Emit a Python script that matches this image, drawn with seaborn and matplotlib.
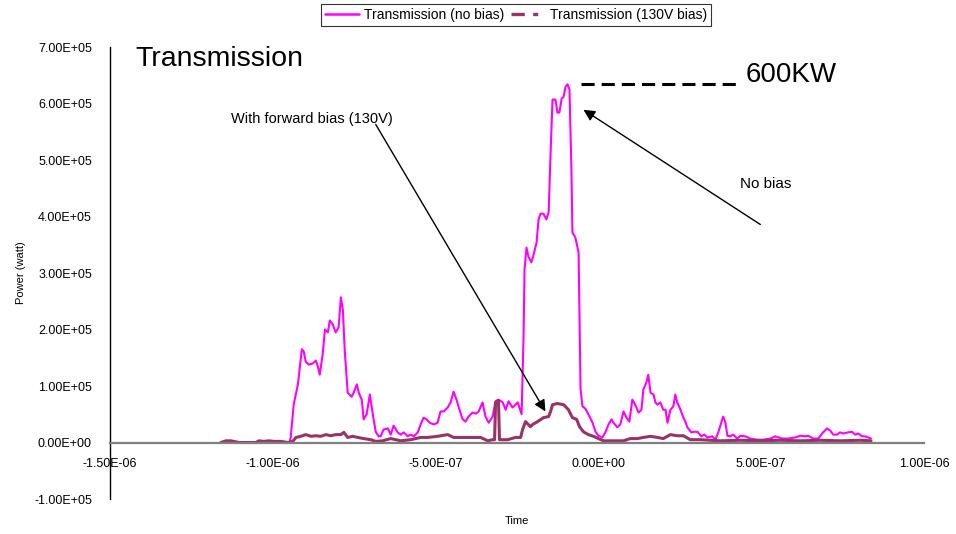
import matplotlib
matplotlib.use("Agg")
import matplotlib.pyplot as plt
from matplotlib.lines import Line2D
from matplotlib.ticker import FuncFormatter
import numpy as np
import pandas as pd
import seaborn as sns

# Transmitted power, time in microseconds, power in kW
time_no_bias_us = [
    -1.153, -1.098, -1.037, -0.975, -0.948, -0.945, -0.936, -0.923, -0.911, -0.905,
    -0.899, -0.890, -0.877, -0.868, -0.862, -0.856, -0.847, -0.840, -0.831, -0.825,
    -0.816, -0.807, -0.798, -0.791, -0.785, -0.779, -0.770, -0.758, -0.752, -0.742,
    -0.736, -0.727, -0.721, -0.712, -0.702, -0.693, -0.684, -0.675, -0.669, -0.660,
    -0.647, -0.638, -0.629, -0.617, -0.607, -0.598, -0.586, -0.577, -0.567, -0.555,
    -0.546, -0.537, -0.528, -0.518, -0.506, -0.494, -0.485, -0.475, -0.463, -0.454,
    -0.445, -0.436, -0.429, -0.417, -0.408, -0.399, -0.387, -0.377, -0.368, -0.356,
    -0.347, -0.337, -0.325, -0.316, -0.307, -0.294, -0.285, -0.276, -0.264, -0.248,
    -0.236, -0.230, -0.227, -0.221, -0.215, -0.206, -0.199, -0.190, -0.184, -0.178,
    -0.169, -0.160, -0.153, -0.147, -0.141, -0.132, -0.126, -0.120, -0.113, -0.107,
    -0.101, -0.095, -0.089, -0.083, -0.080, -0.071, -0.061, -0.055, -0.049, -0.040,
    -0.031, -0.018, -0.009, 0.000, 0.012, 0.021, 0.031, 0.040, 0.046, 0.058,
    0.067, 0.077, 0.086, 0.095, 0.104, 0.113, 0.123, 0.132, 0.138, 0.147,
    0.153, 0.160, 0.169, 0.175, 0.181, 0.190, 0.199, 0.206, 0.212, 0.221,
    0.230, 0.236, 0.242, 0.252, 0.261, 0.267, 0.273, 0.285, 0.294, 0.304,
    0.316, 0.325, 0.334, 0.350, 0.359, 0.368, 0.377, 0.383, 0.390, 0.396,
    0.405, 0.414, 0.426, 0.436, 0.451, 0.466, 0.488, 0.506, 0.528, 0.543,
    0.564, 0.583, 0.604, 0.620, 0.635, 0.644, 0.660, 0.675, 0.690, 0.702,
    0.712, 0.721, 0.733, 0.742, 0.752, 0.767, 0.779, 0.788, 0.798, 0.810,
    0.819, 0.828, 0.837,
]
power_no_bias_kw = [
    0, 0, 0, 0, 1, 10, 67, 103, 165, 161,
    143, 138, 140, 145, 135, 120, 156, 200, 195, 216,
    209, 195, 204, 257, 235, 161, 88, 81, 88, 103,
    88, 76, 41, 50, 85, 50, 19, 11, 11, 23,
    25, 14, 30, 18, 14, 18, 11, 14, 11, 18,
    32, 44, 41, 35, 32, 35, 55, 55, 62, 71,
    90, 76, 62, 41, 37, 46, 53, 51, 55, 71,
    46, 35, 46, 73, 76, 71, 58, 73, 62, 71,
    50, 188, 306, 345, 329, 319, 333, 354, 395, 405,
    405, 395, 407, 513, 607, 607, 584, 584, 609, 612,
    630, 634, 625, 483, 372, 363, 336, 94, 64, 60,
    50, 35, 19, 12, 9, 18, 32, 41, 35, 27,
    32, 55, 44, 37, 76, 67, 53, 58, 94, 106,
    120, 88, 85, 71, 67, 71, 58, 58, 35, 58,
    64, 85, 71, 58, 44, 37, 27, 18, 19, 19,
    11, 14, 9, 11, 5, 18, 35, 46, 35, 12,
    11, 14, 7, 12, 11, 7, 5, 5, 7, 11,
    7, 7, 9, 12, 11, 12, 7, 7, 18, 25,
    21, 14, 14, 18, 16, 18, 19, 14, 16, 11,
    11, 9, 7,
]

time_bias_us = [
    -1.160, -1.144, -1.129, -1.120, -1.104, -1.077, -1.052, -1.043, -1.028, -1.012,
    -0.997, -0.975, -0.954, -0.939, -0.929, -0.914, -0.899, -0.883, -0.868, -0.853,
    -0.837, -0.822, -0.807, -0.791, -0.782, -0.770, -0.755, -0.739, -0.721, -0.699,
    -0.684, -0.663, -0.638, -0.607, -0.577, -0.546, -0.525, -0.494, -0.463, -0.445,
    -0.423, -0.402, -0.383, -0.362, -0.340, -0.325, -0.319, -0.316, -0.307, -0.304,
    -0.279, -0.255, -0.239, -0.233, -0.224, -0.209, -0.202, -0.187, -0.169, -0.153,
    -0.147, -0.141, -0.126, -0.107, -0.092, -0.080, -0.067, -0.058, -0.046, -0.031,
    -0.015, 0.000, 0.015, 0.046, 0.077, 0.098, 0.120, 0.138, 0.160, 0.181,
    0.199, 0.221, 0.242, 0.261, 0.282, 0.313, 0.374, 0.436, 0.497, 0.558,
    0.620, 0.681, 0.742, 0.804, 0.837,
]
power_bias_kw = [
    0, 3, 3, 2, 0, 0, 0, 3, 2, 3,
    2, 2, 0, 2, 9, 11, 14, 11, 12, 11,
    14, 12, 14, 14, 18, 9, 11, 9, 7, 5,
    2, 3, 7, 3, 5, 9, 9, 11, 14, 9,
    9, 9, 9, 9, 3, 5, 5, 71, 74, 5,
    5, 9, 9, 23, 37, 28, 32, 37, 44, 46,
    55, 67, 69, 67, 58, 44, 41, 28, 19, 14,
    11, 7, 3, 3, 3, 7, 7, 9, 11, 9,
    7, 14, 12, 12, 5, 5, 3, 4, 3, 4,
    3, 4, 3, 4, 3,
]

series_labels = ["Transmission (no bias)", "Transmission (130V bias)"]
series_colors = ["#FF00FF", "#993366"]
y_ticks = [-1e5, 0, 1e5, 2e5, 3e5, 4e5, 5e5, 6e5, 7e5]
x_ticks = [-1.5e-6, -1.0e-6, -5e-7, 0.0, 5e-7, 1.0e-6]

df = pd.concat([
    pd.DataFrame({"Time": np.array(time_no_bias_us) * 1e-6,
                  "Power": np.array(power_no_bias_kw) * 1e3,
                  "Series": series_labels[0]}),
    pd.DataFrame({"Time": np.array(time_bias_us) * 1e-6,
                  "Power": np.array(power_bias_kw) * 1e3,
                  "Series": series_labels[1]}),
], ignore_index=True)

sns.set_style("white")
plt.rcParams["font.family"] = ["Liberation Sans", "DejaVu Sans"]
plt.rcParams["text.color"] = "black"
plt.rcParams["axes.labelcolor"] = "black"

fig = plt.figure(figsize=(9.56, 5.34), dpi=100)
ax = fig.add_axes([0.1151, 0.0655, 0.8515, 0.8464])

sns.lineplot(data=df[df["Series"] == series_labels[0]], x="Time", y="Power",
             color=series_colors[0], linewidth=1.5, estimator=None, sort=False,
             ax=ax, legend=False)
sns.lineplot(data=df[df["Series"] == series_labels[1]], x="Time", y="Power",
             color=series_colors[1], linewidth=2.2, estimator=None, sort=False,
             ax=ax, legend=False)

ax.set_xlim(x_ticks[0], x_ticks[-1])
ax.set_ylim(y_ticks[0], y_ticks[-1])
ax.set_xticks(x_ticks)
ax.set_yticks(y_ticks)
sci = FuncFormatter(lambda v, _: format(v, ".2E"))
ax.xaxis.set_major_formatter(sci)
ax.yaxis.set_major_formatter(sci)

for side in ("top", "right"):
    ax.spines[side].set_visible(False)
ax.spines["left"].set_color("black")
ax.spines["left"].set_linewidth(1.0)
ax.spines["bottom"].set_position(("data", 0))
ax.spines["bottom"].set_color("#808080")
ax.spines["bottom"].set_linewidth(1.6)
ax.tick_params(axis="both", direction="out", length=4, width=1.0,
               color="black", labelsize=9, labelcolor="black")
ax.tick_params(axis="y", pad=9)
ax.tick_params(axis="x", pad=7)
ax.grid(False)

ax.set_xlabel("Time", fontsize=8)
ax.set_ylabel("Power (watt)", fontsize=8)
ax.xaxis.set_label_coords(0.5, -0.038)
ax.yaxis.set_label_coords(-0.103, 0.5)

# Peak marker line and labels
peak = max(power_no_bias_kw) * 1e3
ax.plot([-0.055e-6, 0.436e-6], [peak, peak], color="black", linewidth=2.2,
        linestyle=(0, (4.3, 2.3)))
ax.text(0.451e-6, 650e3, "600KW", fontsize=20, va="center", ha="left",
        color="black")
ax.text(-1.423e-6, 678e3, "Transmission", fontsize=20.5, va="center", ha="left",
        color="black")

ax.annotate("", xy=(-0.163e-6, 55e3), xytext=(-0.684e-6, 563e3),
            arrowprops=dict(arrowstyle="-|>", color="black", lw=1.0,
                            mutation_scale=17, shrinkA=0, shrinkB=0))
ax.text(-1.129e-6, 572e3, "With forward bias (130V)", fontsize=10.5,
        va="center", ha="left", color="black")
ax.annotate("", xy=(-0.046e-6, 589e3), xytext=(0.497e-6, 386e3),
            arrowprops=dict(arrowstyle="-|>", color="black", lw=1.0,
                            mutation_scale=17, shrinkA=0, shrinkB=0))
ax.text(0.436e-6, 458e3, "No bias", fontsize=11, va="center", ha="left",
        color="black")

handles = [
    Line2D([], [], color=series_colors[0], linewidth=1.8),
    Line2D([], [], color=series_colors[1], linewidth=2.4,
           linestyle=(0, (4, 2.5, 1.5, 2.5))),
]
leg = fig.legend(handles, series_labels, loc="center", bbox_to_anchor=(0.540, 0.972),
                 ncol=2, fontsize=10, frameon=True, fancybox=False, handlelength=2.4,
                 columnspacing=0.5, handletextpad=0.4, borderpad=0.3,
                 borderaxespad=0)
leg.get_frame().set_edgecolor("black")
leg.get_frame().set_linewidth(0.8)

fig.savefig("out.png", dpi=100)
